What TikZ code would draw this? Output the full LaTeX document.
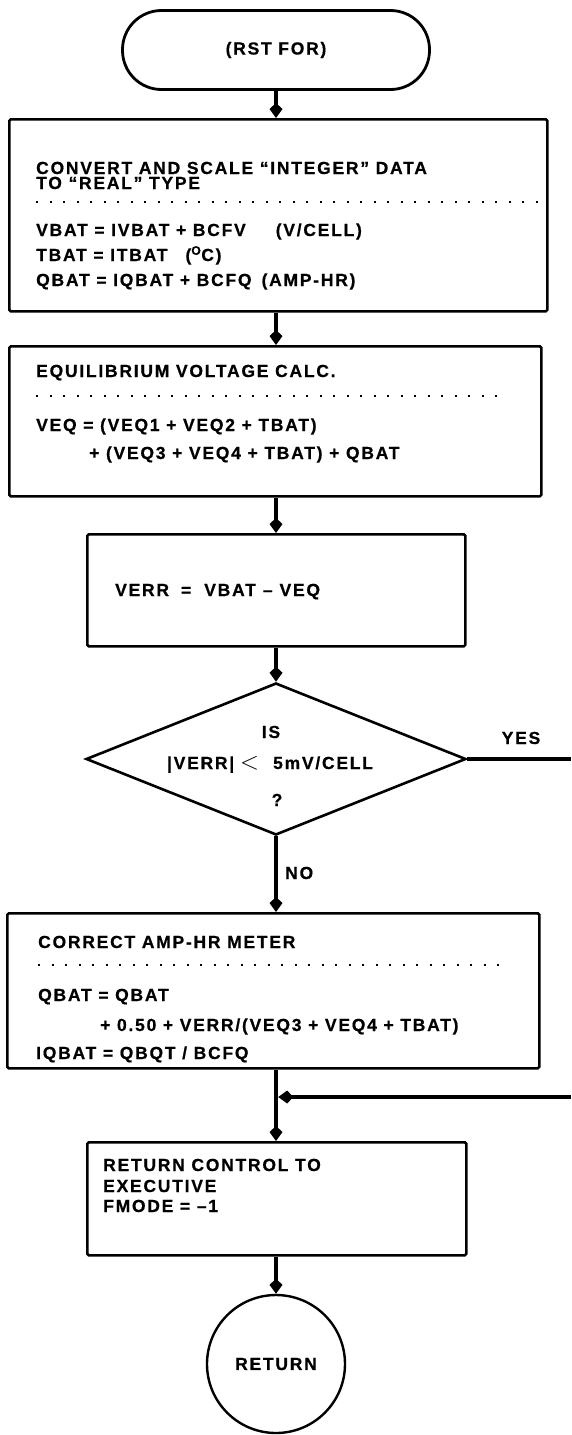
\documentclass[tikz,border=0pt]{standalone}
\usepackage{fontspec}
\newfontfamily\lab{Liberation Sans}[LetterSpace=10, FakeBold=0.6]
\usetikzlibrary{arrows.meta,shapes.geometric,calc}
\begin{document}
\begin{tikzpicture}[x=1pt,y=-1pt,
  every node/.style={font=\lab\bfseries\fontsize{17.5}{18}\selectfont, text=black},
  txt/.style={anchor=base west, inner sep=0pt},
  ctxt/.style={anchor=base, inner sep=0pt},
  boxs/.style={draw, line width=2.6pt, rounded corners=1.5pt, inner sep=0pt, anchor=north west},
  conn/.style={line width=4.5pt},
  arr/.style={line width=4.5pt, -{Kite[length=15pt,width=13pt,inset=6pt]}},
  dots/.style={line width=2.2pt, dash pattern=on 2.2pt off 11.3pt},
]
\useasboundingbox (0,0) rectangle (571,1435);
\coordinate (ax) at (276,0);

% terminator
\node[draw, line width=2.8pt, rounded corners=39pt, minimum width=307pt, minimum height=79pt, inner sep=0pt] (start) at (276,50) {(RST FOR)};

% box 1
\node[boxs, minimum width=538pt, minimum height=192pt] (b1) at (8,118) {};
\node[txt] (t11) at (36,174) {CONVERT AND SCALE “INTEGER” DATA};
\node[txt] (t12) at (36,189) {TO “REAL” TYPE};
\draw[dots] (36,202) -- (542,202);
\node[txt] (t13) at (36,236) {VBAT = IVBAT + BCFV\hspace{30pt}(V/CELL)};
\node[txt] (t14) at (36,261) {TBAT = ITBAT\hspace{18pt}(\textsuperscript{O}C)};
\node[txt] (t15) at (36,286) {QBAT = IQBAT + BCFQ\hspace{10pt}(AMP-HR)};

% box 2
\node[boxs, minimum width=532pt, minimum height=150pt] (b2) at (8,345) {};
\node[txt] (t21) at (36,377) {EQUILIBRIUM VOLTAGE CALC.};
\draw[dots] (36,396) -- (506,396);
\node[txt] (t22) at (36,431) {VEQ = (VEQ1 + VEQ2 + TBAT)};
\node[txt] (t23) at (89,459) {+ (VEQ3 + VEQ4 + TBAT) + QBAT};

% box 3
\node[boxs, minimum width=378pt, minimum height=112pt] (b3) at (86,533) {};
\node[txt] (t31) at (115,596) {VERR\hspace{12pt}=\hspace{13pt}VBAT\hspace{7pt}–\hspace{7pt}VEQ};

% decision
\node[draw, diamond, line width=2.6pt, minimum width=380pt, minimum height=152pt, inner sep=0pt] (dia) at (276,759) {};
\node[ctxt] (d1) at (271,738) {IS};
\node[ctxt] (d2) at (270,769) {|VERR|\hspace{6pt}{\fontsize{28}{28}\selectfont$<$}\hspace{14pt}5mV/CELL};
\node[ctxt] (d3) at (277,806) {?};
\node[ctxt] (yes) at (521,744) {YES};
\node[txt] (no) at (285,879) {NO};

% box 4
\node[boxs, minimum width=532pt, minimum height=155pt] (b4) at (6,912) {};
\node[txt] (t41) at (38,948) {CORRECT AMP-HR METER};
\draw[dots] (38,965) -- (508,965);
\node[txt] (t42) at (38,1001) {QBAT = QBAT};
\node[txt] (t43) at (100,1031) {+ 0.50 + VERR/(VEQ3 + VEQ4 + TBAT)};
\node[txt] (t44) at (36,1059) {IQBAT = QBQT / BCFQ};

% box 5
\node[boxs, minimum width=379pt, minimum height=113pt] (b5) at (86,1141) {};
\node[txt] (t51) at (103,1171) {RETURN CONTROL TO};
\node[txt] (t52) at (103,1192) {EXECUTIVE};
\node[txt] (t53) at (103,1212) {FMODE = –1};

% end
\node[draw, circle, line width=2.4pt, minimum size=138pt, inner sep=0pt] (ret) at (276,1364) {RETURN};

% connectors
\coordinate (J) at (276,1097);
\coordinate (mr) at (571,1097);
\coordinate (yr) at (571,759);
\draw[arr] (ax |- start.south) -- (ax |- b1.north);
\draw[arr] (ax |- b1.south) -- (ax |- b2.north);
\draw[arr] (ax |- b2.south) -- (ax |- b3.north);
\draw[arr] (ax |- b3.south) -- (dia.north);
\draw[conn] (dia.east) -- (yr);
\draw[arr] (dia.south) -- (dia.south |- b4.north);
\draw[conn] (ax |- b4.south) -- (J);
\draw[arr] (J) -- (ax |- b5.north);
\draw[arr, shorten >=2.2pt] (mr) -- (J);
\draw[arr] (ax |- b5.south) -- (ret.north);
\end{tikzpicture}
\end{document}
